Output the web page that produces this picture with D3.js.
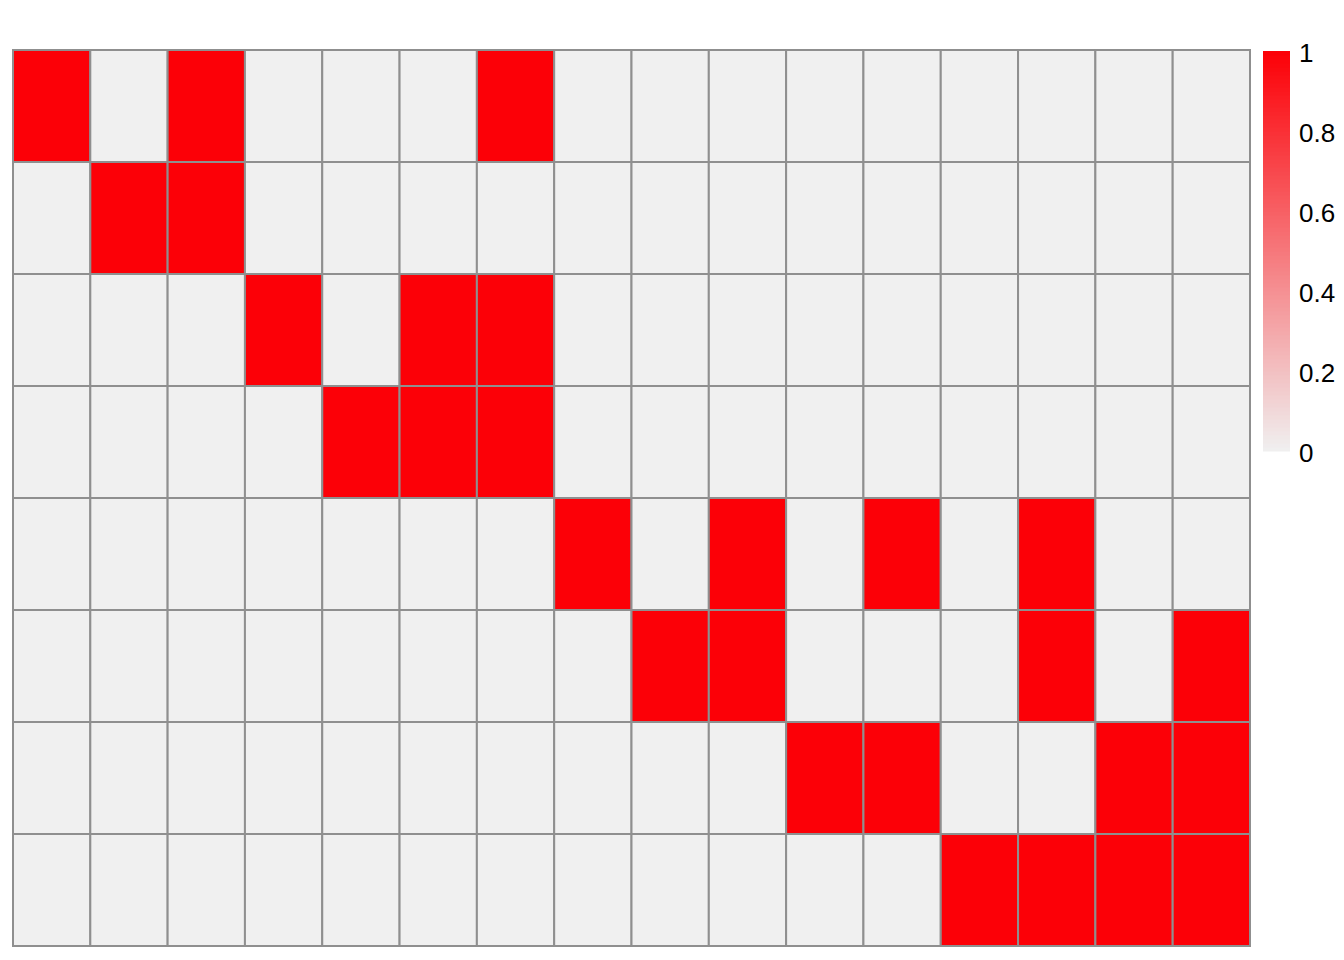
<!DOCTYPE html>
<html><head><meta charset="utf-8">
<script src="https://cdn.jsdelivr.net/npm/d3@7"></script>
<style>body{margin:0;background:#fff}svg{display:block}</style>
</head><body>
<script>
const rows = ["r1","r2","r3","r4","r5","r6","r7","r8"];
const cols = d3.range(1,17).map(i=>"c"+i);
const values = [
 [1,0,1,0,0,0,1,0,0,0,0,0,0,0,0,0],
 [0,1,1,0,0,0,0,0,0,0,0,0,0,0,0,0],
 [0,0,0,1,0,1,1,0,0,0,0,0,0,0,0,0],
 [0,0,0,0,1,1,1,0,0,0,0,0,0,0,0,0],
 [0,0,0,0,0,0,0,1,0,1,0,1,0,1,0,0],
 [0,0,0,0,0,0,0,0,1,1,0,0,0,1,0,1],
 [0,0,0,0,0,0,0,0,0,0,1,1,0,0,1,1],
 [0,0,0,0,0,0,0,0,0,0,0,0,1,1,1,1]
];
const legendTicks = [0,0.2,0.4,0.6,0.8,1];
const legendLabels = ["0","0.2","0.4","0.6","0.8","1"];

const W=1344,H=960;
const svg=d3.select("body").append("svg").attr("width",W).attr("height",H);
const color=d3.scaleLinear().domain([0,1]).range(["#F0F0F0","#FC0007"]);
const x=d3.scaleBand().domain(cols).range([13,1250]);
const y=d3.scaleBand().domain(rows).range([50,946]);

const cells=[];
values.forEach((r,i)=>r.forEach((v,j)=>cells.push({row:rows[i],col:cols[j],v})));
svg.append("g").selectAll("rect").data(cells).join("rect")
  .attr("x",d=>x(d.col)).attr("y",d=>y(d.row))
  .attr("width",x.bandwidth()).attr("height",y.bandwidth())
  .attr("fill",d=>color(d.v)).attr("stroke","#8f8f8f").attr("stroke-width",2);

// legend
const ly=d3.scaleLinear().domain([0,1]).range([451,51]);
const steps=d3.range(0,100).map(i=>i/100);
const lg=svg.append("g");
lg.selectAll("rect").data(steps).join("rect")
  .attr("x",1263).attr("width",27)
  .attr("y",d=>ly(d+0.01)).attr("height",d=>ly(d)-ly(d+0.01)+0.5)
  .attr("fill",d=>color(d+0.005));
lg.selectAll("text").data(legendTicks).join("text")
  .attr("x",1299).attr("y",d=>ly(d)+1.5)
  .attr("dominant-baseline","central")
  .attr("font-family","Liberation Sans, Arial, sans-serif")
  .attr("font-size",26).attr("fill","#000")
  .text((d,i)=>legendLabels[i]);
</script>
</body></html>
